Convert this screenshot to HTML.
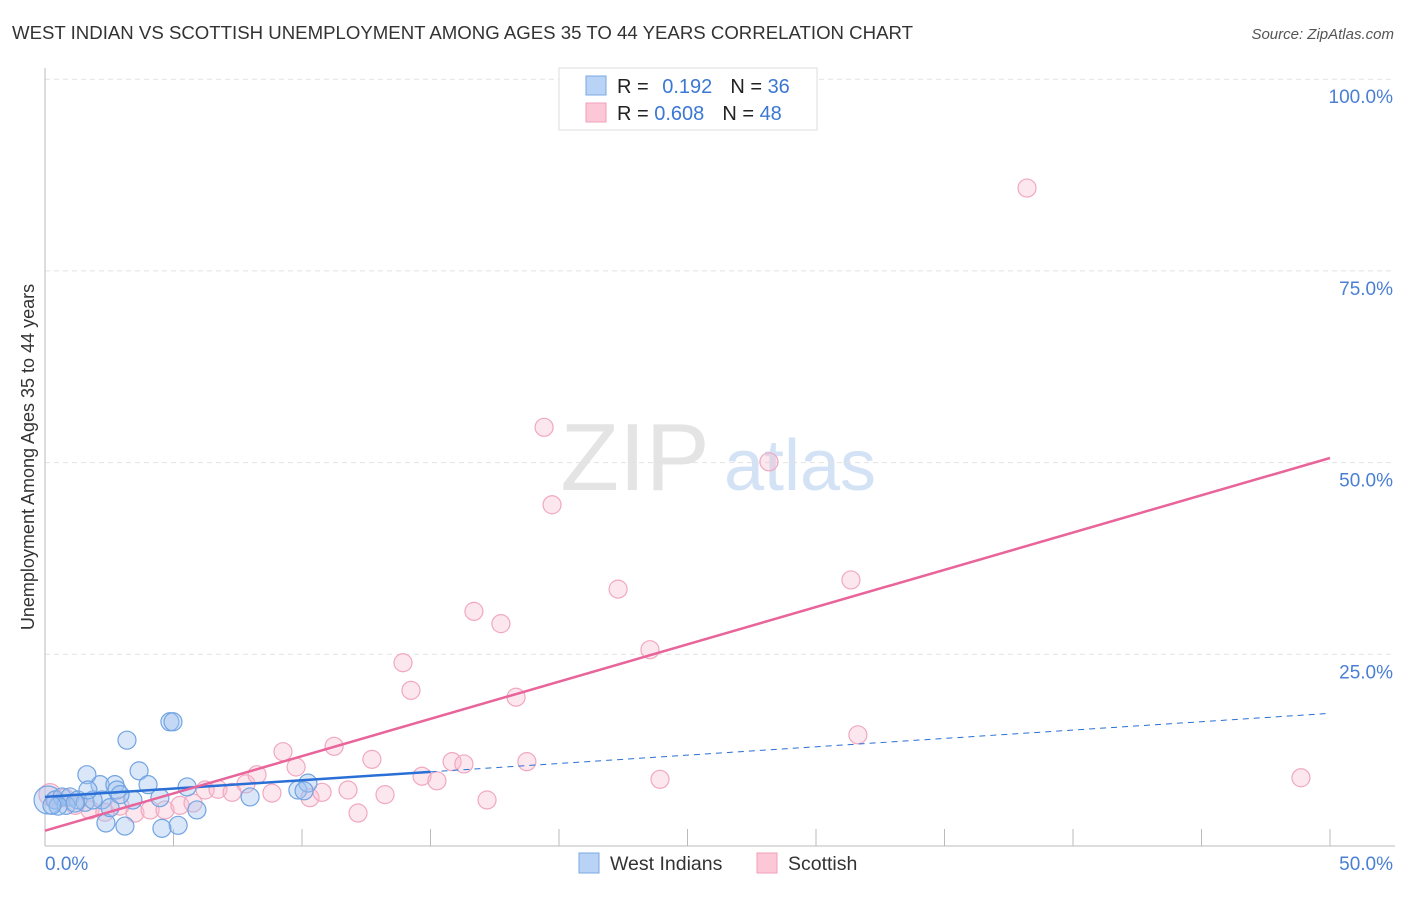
<!DOCTYPE html>
<html><head><meta charset="utf-8"><style>
body{margin:0;background:#fff;font-family:"Liberation Sans",sans-serif;}
svg text{font-family:"Liberation Sans",sans-serif;}
</style></head><body>
<svg id="chart" width="1406" height="892">
<text x="12" y="39" font-size="18" fill="#333" textLength="901" lengthAdjust="spacingAndGlyphs">WEST INDIAN VS SCOTTISH UNEMPLOYMENT AMONG AGES 35 TO 44 YEARS CORRELATION CHART</text>
<text x="1394" y="39" font-size="15" fill="#555" font-style="italic" text-anchor="end">Source: ZipAtlas.com</text>
<text x="635" y="490" font-size="96" fill="#e4e4e4" font-family="Liberation Serif" text-anchor="middle">ZIP</text>
<text x="800" y="490" font-size="72" fill="#d4e2f5" text-anchor="middle">atlas</text>
<text transform="translate(34,457) rotate(-90)" font-size="18" fill="#333" text-anchor="middle">Unemployment Among Ages 35 to 44 years</text>
<g id="grid"></g><g id="marks"></g>
<g>
<rect x="559" y="68" width="258" height="62" fill="#fff" stroke="#ddd"/>
<rect x="586" y="76" width="20" height="19" fill="#b8d3f5" stroke="#7aa8e4"/>
<rect x="586" y="103" width="20" height="19" fill="#fcc8d8" stroke="#f0a0b8"/>
<text x="617" y="93" font-size="20" fill="#222">R = <tspan fill="#3b78d4" dx="8">0.192</tspan><tspan dx="18" fill="#222">N = </tspan><tspan fill="#3b78d4">36</tspan></text>
<text x="617" y="120" font-size="20" fill="#222">R = <tspan fill="#3b78d4">0.608</tspan><tspan dx="18" fill="#222">N = </tspan><tspan fill="#3b78d4">48</tspan></text>
</g>
<g>
<rect x="579" y="853" width="20" height="20" fill="#b8d3f5" stroke="#7aa8e4"/>
<text x="610" y="870" font-size="19.5" fill="#333">West Indians</text>
<rect x="757" y="853" width="20" height="20" fill="#fcc8d8" stroke="#f0a0b8"/>
<text x="788" y="870" font-size="19.5" fill="#333">Scottish</text>
</g>
</svg>
<script>
const yTicks=[25,50,75,100];
const yTickLabels=["25.0%","50.0%","75.0%","100.0%"];
const xTicks=[0,5,10,15,20,25,30,35,40,45,50];
const blueX=[0.12,0.39,0.66,0.97,1.28,1.56,2.14,1.63,2.72,2.80,2.22,3.19,3.66,4.01,4.47,4.86,4.98,5.18,5.53,5.91,4.55,3.11,2.37,7.98,9.84,10.23,10.08,2.53,0.82,0.51,1.87,3.42,1.17,0.27,1.67,2.92];
const blueY=[6.0,6.0,6.4,6.4,6.0,5.7,8.0,9.3,8.0,7.3,6.0,13.8,9.8,8.0,6.3,16.2,16.2,2.7,7.7,4.7,2.3,2.6,3.0,6.4,7.3,8.2,7.2,5.0,5.3,5.2,6.0,6.0,5.6,5.3,7.3,6.7];
const pinkX=[0.19,0.43,0.78,1.17,1.75,2.33,2.92,3.50,4.09,4.67,5.25,5.76,6.23,6.73,7.28,7.82,8.25,8.83,9.26,9.77,10.31,10.78,11.25,11.79,12.18,12.72,13.23,13.93,14.24,14.67,15.25,15.84,16.30,16.69,17.20,17.74,18.33,18.75,19.42,19.73,22.30,23.54,23.93,28.17,31.36,31.63,38.21,48.87];
const pinkY=[6.7,6.0,6.3,5.3,4.7,4.4,5.2,4.3,4.7,4.7,5.3,5.6,7.3,7.4,7.0,8.1,9.3,6.9,12.3,10.3,6.3,7.0,13.0,7.3,4.3,11.3,6.7,23.9,20.3,9.1,8.5,11.0,10.7,30.6,6.0,29.0,19.4,11.0,54.6,44.5,33.5,25.6,8.7,50.1,34.7,14.5,85.8,8.9];
const blueTrend=[6.4,17.3];
const pinkTrend=[2.0,50.6];
const NS='http://www.w3.org/2000/svg';
const X=v=>45+v*25.7, Y=v=>846-v*7.668;
function mk(t,a,p){const e=document.createElementNS(NS,t);for(const k in a)e.setAttribute(k,a[k]);p.appendChild(e);return e;}
const grid=document.getElementById('grid'),marks=document.getElementById('marks');
yTicks.forEach((t,i)=>{
 const l=mk('line',{x1:45,x2:1395,y1:Y(t),y2:Y(t),stroke:'#e2e2e2','stroke-dasharray':'5,4'},grid);
 
 
 const tx=mk('text',{x:1393,y:Y(t)+24,'font-size':19,fill:'#4a7fd4','text-anchor':'end'},grid);tx.textContent=yTickLabels[i];
 
 
});
mk('line',{x1:45,x2:45,y1:68,y2:846,stroke:'#bbb'},grid);
mk('line',{x1:45,x2:1395,y1:846,y2:846,stroke:'#bbb'},grid);
xTicks.forEach(t=>{const l=mk('line',{x1:X(t),x2:X(t),y1:829,y2:846,stroke:'#bbb'},grid);
 
 });
let a=mk('text',{x:45,y:870,'font-size':19,fill:'#4a7fd4'},grid);a.textContent='0.0%';


a=mk('text',{x:1393,y:870,'font-size':19,fill:'#4a7fd4','text-anchor':'end'},grid);a.textContent='50.0%';


pinkX.forEach((x,i)=>{const c=mk('circle',{cx:X(x),cy:Y(pinkY[i]),r:i==0?11:9,fill:'rgba(248,185,205,0.35)',stroke:'#f0a8c0','stroke-width':1.2},marks);
 
 });
blueX.forEach((x,i)=>{const c=mk('circle',{cx:X(x),cy:Y(blueY[i]),r:i==0?14:9,fill:'rgba(160,196,240,0.4)',stroke:'#72a4e2','stroke-width':1.2},marks);
 
 });
const bAt=x=>blueTrend[0]+(blueTrend[1]-blueTrend[0])*x/50;
let t1=mk('line',{x1:X(0),y1:Y(bAt(0)),x2:X(15),y2:Y(bAt(15)),stroke:'#2a6fd6','stroke-width':2.5},marks);


let t2=mk('line',{x1:X(15),y1:Y(bAt(15)),x2:X(50),y2:Y(bAt(50)),stroke:'#2a6fd6','stroke-width':1,'stroke-dasharray':'6,5'},marks);


let t3=mk('line',{x1:X(0),y1:Y(pinkTrend[0]),x2:X(50),y2:Y(pinkTrend[1]),stroke:'#e8649a','stroke-width':2.5},marks);


</script>
</body></html>
